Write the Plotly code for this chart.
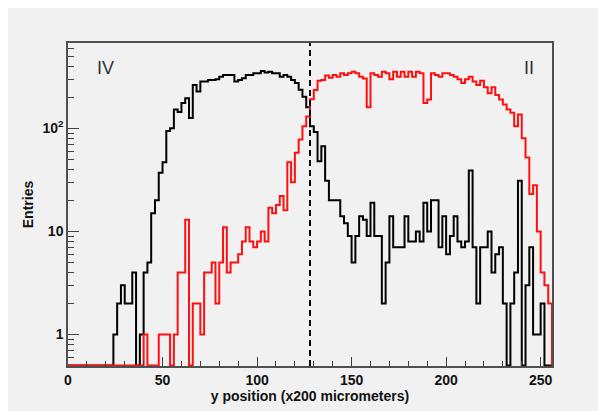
import numpy as np
import plotly.graph_objects as go

# ---- data (histogram contents, 128 bins from 0 to 256) ----
x_low, x_high, n_bins = 0, 256, 128

counts_iv = [
    0, 0, 0, 0, 0, 0, 0, 0, 0, 0, 0, 0,          # 0-11
    1, 2, 3, 2, 2, 4, 0, 1, 4, 5,                # 12-21
    15, 20, 37, 47, 94, 100, 152, 144, 176, 196, # 22-31
    126, 263, 228, 284, 284, 294, 294, 300, 316, 330,  # 32-41
    330, 330, 284, 294, 307, 330, 330, 343, 343, 361,  # 42-51
    348, 354, 343, 343, 316, 330, 316, 294, 275, 237,  # 52-61
    203, 160, 105, 92, 48, 67, 31, 20, 20, 20,         # 62-71
    14, 12, 9, 5, 9, 14, 13, 9, 19, 9,                 # 72-81
    9, 2, 5, 14, 7, 7, 7, 14, 8, 8,                    # 82-91
    10, 8, 19, 10, 20, 20, 7, 14, 6, 9,                # 92-101
    14, 8, 7, 8, 39, 7, 2, 7, 7, 10,                   # 102-111
    4, 6, 7, 2, 0, 2, 4, 31, 0, 3,                     # 112-121
    7, 1, 1, 2, 0, 0,                                  # 122-127
]

counts_ii = [
    0, 0, 0, 0, 0, 0, 0, 0, 0, 0,                # 0-9
    0, 0, 0, 0, 0, 0, 0, 0, 0, 0,                # 10-19
    1, 0, 0, 0, 1, 1, 1, 0, 1, 4,                # 20-29
    4, 13, 0, 2, 2, 1, 4, 4, 5, 2,               # 30-39
    5, 11, 4, 5, 5, 6, 8, 11, 8, 7,              # 40-49
    8, 10, 8, 17, 15, 18, 22, 16, 47, 30,        # 50-59
    58, 78, 105, 130, 192, 236, 290, 294, 325, 310,   # 60-69
    330, 316, 343, 330, 343, 355, 343, 316, 305, 160, # 70-79
    343, 330, 316, 355, 343, 300, 355, 316, 355, 316, # 80-89
    355, 316, 355, 343, 176, 190, 343, 330, 316, 343, # 90-99
    343, 330, 316, 300, 275, 300, 316, 285, 263, 290, # 100-109
    250, 219, 250, 211, 190, 170, 152, 142, 105, 136, # 110-119
    80, 52, 23, 28, 10, 4, 3, 2,                      # 120-127
]

divider_x = 128
label_left = "IV"
label_right = "II"
x_title = "y position (x200 micrometers)"
y_title = "Entries"
x_tick_vals = [0, 50, 100, 150, 200, 250]
y_tick_vals = [1, 10, 100]
y_tick_text = ["1", "10", "10<sup>2</sup>"]

# ---- figure ----
y_range_log = [-0.306, 2.828]
y_floor = 10 ** (y_range_log[0] + 0.006)
edges = np.linspace(x_low, x_high, n_bins + 1)


def step_xy(counts):
    c = np.maximum(np.asarray(counts, dtype=float), y_floor)
    xs = np.concatenate([[edges[0]], edges, [edges[-1]]])
    ys = np.concatenate([[y_floor], c, [c[-1]], [y_floor]])
    return xs, ys


GRAY = "#f1f1f1"
FONT = "Liberation Sans"

fig = go.Figure()
for counts, color, name in [(counts_iv, "#000000", label_left), (counts_ii, "#ff1010", label_right)]:
    xs, ys = step_xy(counts)
    fig.add_trace(go.Scatter(x=xs, y=ys, mode="lines", line=dict(color=color, width=2, shape="hv"),
                             name=name, showlegend=False, hoverinfo="skip"))

# dashed divider
fig.add_shape(type="line", xref="x", yref="paper", x0=divider_x, x1=divider_x, y0=0, y1=1,
              line=dict(color="#000000", width=2, dash="6px,4px"))

fig.add_annotation(x=0.0785, y=0.923, xref="paper", yref="paper", text=label_left, showarrow=False,
                   xanchor="center", yanchor="middle",
                   font=dict(family=FONT, size=18, color="#303030"))
fig.add_annotation(x=0.952, y=0.923, xref="paper", yref="paper", text=label_right, showarrow=False,
                   xanchor="center", yanchor="middle",
                   font=dict(family=FONT, size=18, color="#303030"))

minor_y = [v * 10 ** d for d in (-1, 0, 1, 2) for v in range(2, 10) if 0.49 < v * 10 ** d < 680]

fig.update_layout(
    width=598, height=403,
    margin=dict(l=60, r=54, t=35, b=41),
    paper_bgcolor=GRAY,
    plot_bgcolor=GRAY,
    xaxis=dict(
        range=[x_low, x_high], tickvals=x_tick_vals, ticks="inside", ticklen=9, tickwidth=1,
        tickcolor="#404040", showgrid=False, zeroline=False,
        showline=True, linecolor="#505050", linewidth=1.5, mirror=True,
        tickfont=dict(family=FONT, size=14, color="#111", weight="bold"),
        minor=dict(ticks="inside", ticklen=5, dtick=10, tickcolor="#404040", showgrid=False),
        title=dict(text=x_title, font=dict(family=FONT, size=14, color="#111", weight="bold"), standoff=2),
    ),
    yaxis=dict(
        type="log", range=y_range_log, tickvals=y_tick_vals, ticktext=y_tick_text,
        ticks="inside", ticklen=11, tickwidth=1, tickcolor="#404040",
        showgrid=False, zeroline=False,
        showline=True, linecolor="#505050", linewidth=1.5, mirror=True,
        tickfont=dict(family=FONT, size=14, color="#111", weight="bold"),
        minor=dict(ticks="inside", ticklen=6, tickvals=minor_y, tickcolor="#404040", showgrid=False),
        title=dict(text=y_title, font=dict(family=FONT, size=14, color="#111", weight="bold"), standoff=6),
    ),
)

fig.write_html("out.html")
